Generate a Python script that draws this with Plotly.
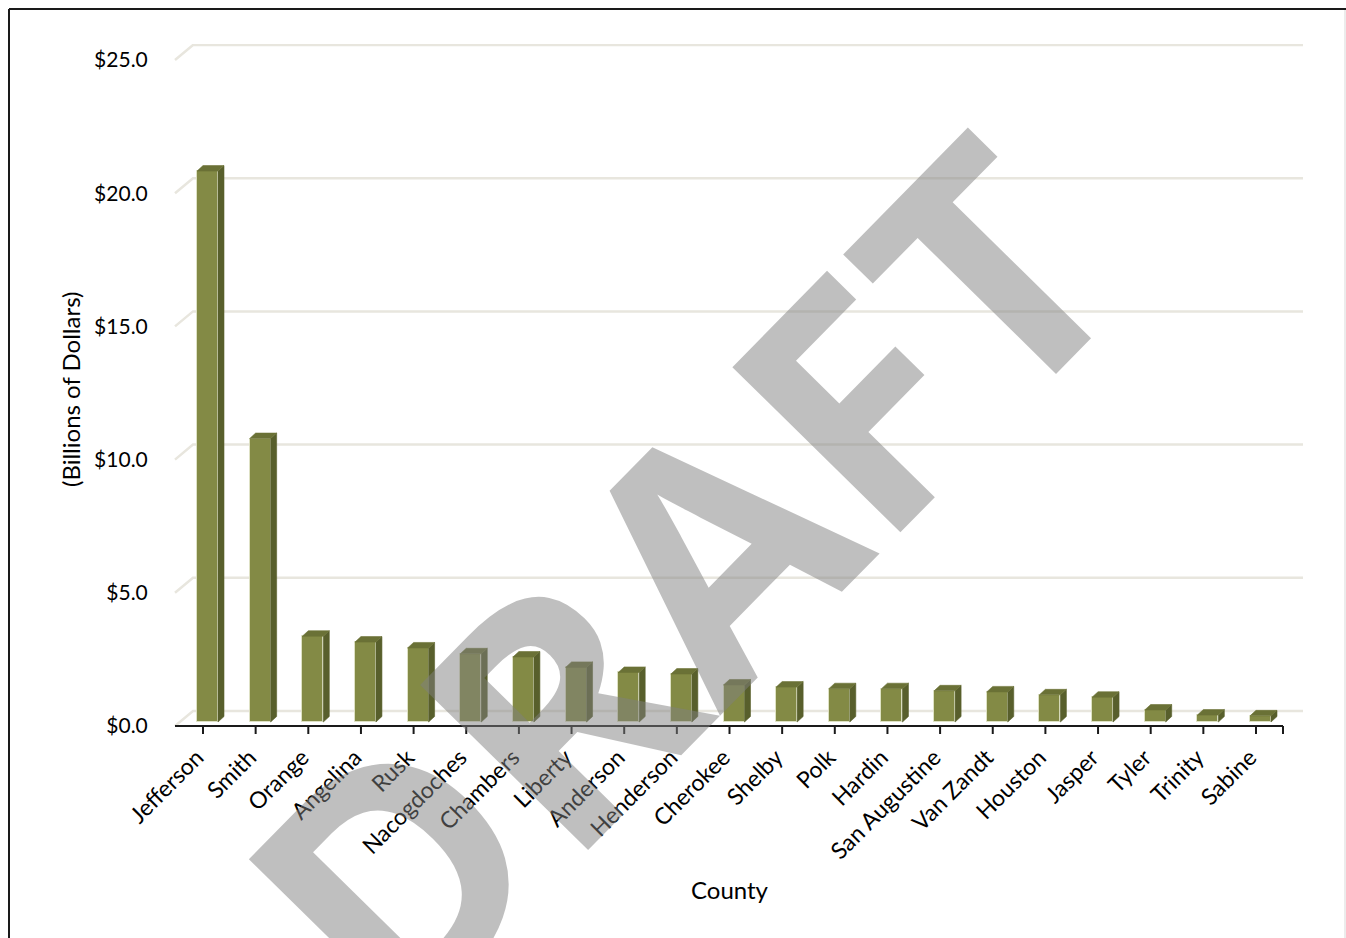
import plotly.graph_objects as go

# ---------------- data ----------------
counties = ["Jefferson", "Smith", "Orange", "Angelina", "Rusk", "Nacogdoches",
            "Chambers", "Liberty", "Anderson", "Henderson", "Cherokee", "Shelby",
            "Polk", "Hardin", "San Augustine", "Van Zandt", "Houston", "Jasper",
            "Tyler", "Trinity", "Sabine"]
values = [20.68, 10.64, 3.22, 3.0, 2.78, 2.56, 2.44, 2.05, 1.86, 1.80, 1.39,
          1.31, 1.25, 1.25, 1.17, 1.13, 1.02, 0.93, 0.45, 0.26, 0.23]
y_ticks = [0, 5, 10, 15, 20, 25]
y_tick_labels = ["$0.0", "$5.0", "$10.0", "$15.0", "$20.0", "$25.0"]

# ---------------- geometry / style ----------------
W, H = 1346, 938
ML, MR, MT, MB = 174, 42, 44, 198
PW, PH = W - ML - MR, H - MT - MB
PX_CAT = 52.65      # pixels per category
PX_VAL = 26.64      # pixels per value unit
X0_PX = 203         # pixel of category 0
Y0_PX = 726         # pixel of value 0 (front plane)

xr = [(ML - X0_PX) / PX_CAT, (ML + PW - X0_PX) / PX_CAT]
yr = [(Y0_PX - (MT + PH)) / PX_VAL, (Y0_PX - MT) / PX_VAL]


def paper_x(px):
    return (px - ML) / PW


def paper_y(py):
    return (MT + PH - py) / PH


FRONT = "#838a45"
SIDE = "#585f2c"
TOP = "#6a7136"
GRID = "#e8e6de"
FONT = "Lato"

# 3D offsets (in data units)
wall_dx = 18 / PX_CAT
wall_dy = 15 / PX_VAL
bar_off_x = 4.5 / PX_CAT
bar_base = 4 / PX_VAL
bar_w = 21 / PX_CAT
depth_dx = 6 / PX_CAT
depth_dy = 5.5 / PX_VAL
x_left = (175 - X0_PX) / PX_CAT
x_right = (1303 - X0_PX) / PX_CAT
x_axis_end = (1283 - X0_PX) / PX_CAT
tick_len = 8 / PX_VAL
label_shift = 6 / PX_CAT

fig = go.Figure()

# front faces
xs = [i + bar_off_x for i in range(len(values))]
fig.add_trace(go.Bar(
    x=xs, y=values, base=bar_base, width=bar_w,
    marker=dict(color=FRONT, line=dict(color="rgba(225,228,200,0.9)", width=1)),
    hoverinfo="skip", showlegend=False))

# side faces and top faces
sx, sy, tx, ty = [], [], [], []
for xc, v in zip(xs, values):
    r = xc + bar_w / 2
    l = xc - bar_w / 2
    top = bar_base + v
    sx += [r, r + depth_dx, r + depth_dx, r, r, None]
    sy += [bar_base, bar_base + depth_dy, top + depth_dy, top, bar_base, None]
    tx += [l, r, r + depth_dx, l + depth_dx, l, None]
    ty += [top, top, top + depth_dy, top + depth_dy, top, None]
fig.add_trace(go.Scatter(x=sx, y=sy, fill="toself", fillcolor=SIDE, mode="lines",
                         line=dict(width=0.6, color="rgba(90,97,45,1)"),
                         hoverinfo="skip", showlegend=False))
fig.add_trace(go.Scatter(x=tx, y=ty, fill="toself", fillcolor=TOP, mode="lines",
                         line=dict(width=0.6, color="rgba(107,114,54,1)"),
                         hoverinfo="skip", showlegend=False))

# category axis line + tick marks
ax_x = [x_left, x_axis_end, None]
ax_y = [0, 0, None]
for p in list(range(len(counties))) + [x_axis_end]:
    ax_x += [p, p, None]
    ax_y += [0, -tick_len, None]
fig.add_trace(go.Scatter(x=ax_x, y=ax_y, mode="lines",
                         line=dict(color="#1a1a1a", width=2),
                         hoverinfo="skip", showlegend=False))

# gridlines (floor-to-wall perspective)
shapes = []
for t in y_ticks:
    shapes.append(dict(
        type="path", xref="x", yref="y", layer="below",
        path=f"M {x_left},{t} L {x_left + wall_dx},{t + wall_dy} L {x_right},{t + wall_dy}",
        line=dict(color=GRID, width=2.5)))

# outer frame
shapes.append(dict(type="line", xref="paper", yref="paper",
                   x0=paper_x(9), x1=paper_x(1346), y0=paper_y(9), y1=paper_y(9),
                   line=dict(color="#1a1a1a", width=2)))
shapes.append(dict(type="line", xref="paper", yref="paper",
                   x0=paper_x(9), x1=paper_x(9), y0=paper_y(9), y1=paper_y(960),
                   line=dict(color="#1a1a1a", width=2)))
shapes.append(dict(type="line", xref="paper", yref="paper",
                   x0=paper_x(1345), x1=paper_x(1345), y0=paper_y(10), y1=paper_y(960),
                   line=dict(color="#d9d9d9", width=1)))

annotations = [
    dict(text="(Billions of Dollars)", xref="paper", yref="paper",
         x=paper_x(70), y=paper_y(390), showarrow=False, textangle=-90,
         font=dict(family=FONT, size=24, color="#000000"),
         xanchor="center", yanchor="middle"),
    dict(text="County", xref="paper", yref="paper",
         x=paper_x(730), y=paper_y(889), showarrow=False,
         font=dict(family=FONT, size=24, color="#000000"),
         xanchor="center", yanchor="middle"),
    dict(text="<b>DRAFT</b>", xref="paper", yref="paper",
         x=paper_x(677), y=paper_y(577), showarrow=False, textangle=-45.5,
         font=dict(family="Open Sans", size=330, color="rgba(128,128,128,0.5)"),
         xanchor="center", yanchor="middle"),
]

fig.update_layout(
    width=W, height=H,
    margin=dict(l=ML, r=MR, t=MT, b=MB, pad=0),
    paper_bgcolor="white", plot_bgcolor="white",
    shapes=shapes, annotations=annotations,
    bargap=0, showlegend=False,
    font=dict(family=FONT, size=22, color="#000000"),
    xaxis=dict(range=xr, tickmode="array",
               tickvals=[i - label_shift for i in range(len(counties))],
               ticktext=counties,
               tickangle=-45, ticks="outside", ticklen=8,
               tickcolor="rgba(0,0,0,0)", showgrid=False, zeroline=False, showline=False,
               anchor="free", position=(MT + PH - Y0_PX) / PH,
               tickfont=dict(family=FONT, size=23, color="#000000"), fixedrange=True),
    yaxis=dict(range=yr, tickmode="array", tickvals=y_ticks, ticktext=y_tick_labels,
               ticks="outside", ticklen=21, tickcolor="rgba(0,0,0,0)",
               showgrid=False, zeroline=False, showline=False,
               tickfont=dict(family=FONT, size=21, color="#000000"), fixedrange=True),
)

fig.write_html("out.html")
